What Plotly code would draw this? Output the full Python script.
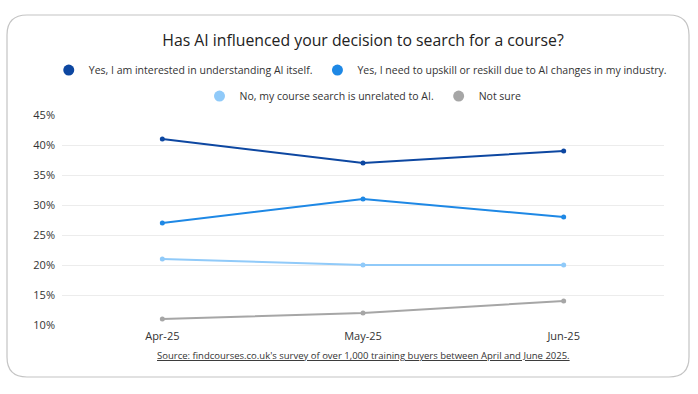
import plotly.graph_objects as go

months = ["Apr-25", "May-25", "Jun-25"]
series_names = [
    "Yes, I am interested in understanding AI itself.",
    "Yes, I need to upskill or reskill due to AI changes in my industry.",
    "No, my course search is unrelated to AI.",
    "Not sure",
]
interested = [41, 37, 39]
upskill = [27, 31, 28]
unrelated = [21, 20, 20]
not_sure = [11, 12, 14]
colors = ["#0D47A1", "#1E88E5", "#90CAF9", "#A6A6A6"]
legend_ids = ["legend", "legend", "legend2", "legend2"]

values = [interested, upskill, unrelated, not_sure]
font = "Open Sans, Noto Sans, sans-serif"

fig = go.Figure()
for name, vals, col in zip(series_names, values, colors):
    fig.add_trace(go.Scatter(
        x=months, y=vals, mode="lines+markers", name=name,
        line=dict(color=col, width=2), marker=dict(color=col, size=5),
        showlegend=False, hoverinfo="skip",
    ))
for name, col, lg in zip(series_names, colors, legend_ids):
    fig.add_trace(go.Scatter(
        x=[None], y=[None], mode="markers", name=name,
        marker=dict(color=col, size=11), legend=lg, showlegend=True,
    ))

card = ("M -35,-52 L 607,-52 Q 627,-52 627,-32 L 627,290 Q 627,310 607,310 "
        "L -35,310 Q -55,310 -55,290 L -55,-32 Q -55,-52 -35,-52 Z")

fig.update_layout(
    width=698, height=394,
    margin=dict(l=62, r=34, t=115, b=69, autoexpand=False),
    paper_bgcolor="white", plot_bgcolor="white",
    font=dict(family=font, size=11, color="#333333"),
    title=dict(text="Has AI influenced your decision to search for a course?",
               x=0.5, xref="paper", xanchor="center", y=0.898, yanchor="middle",
               font=dict(size=15.8, color="#222222", family=font)),
    xaxis=dict(range=[-0.5, 2.5], showgrid=False, zeroline=False, showline=False,
               ticks="", ticklabelstandoff=3, tickfont=dict(size=11, color="#333333")),
    yaxis=dict(range=[10, 45], dtick=5, ticksuffix="%", showgrid=True,
               gridcolor="#ECECEC", gridwidth=1, zeroline=False, showline=False,
               ticklabelstandoff=6, tickfont=dict(size=11, color="#333333")),
    legend=dict(orientation="h", x=-0.022, xanchor="left", y=1.214, yanchor="middle",
                font=dict(size=10.5, color="#333333"), itemwidth=30,
                bgcolor="rgba(0,0,0,0)"),
    legend2=dict(orientation="h", x=0.5, xanchor="center", y=1.09, yanchor="middle",
                 font=dict(size=10.5, color="#333333"), itemwidth=30,
                 bgcolor="rgba(0,0,0,0)"),
    shapes=[dict(type="path", path=card, xref="paper", yref="paper",
                 xsizemode="pixel", ysizemode="pixel", xanchor=0, yanchor=0,
                 line=dict(color="#C4C4C4", width=1.2), fillcolor="rgba(0,0,0,0)",
                 layer="below")],
    annotations=[dict(text="<u>Source: findcourses.co.uk's survey of over 1,000 training buyers between April and June 2025.</u>",
                      x=0.5, xref="paper", y=-0.143, yref="paper", xanchor="center",
                      yanchor="middle", showarrow=False,
                      font=dict(size=9.5, color="#333333", family=font))],
)

fig.write_html("out.html", config={"displayModeBar": False},
               post_script="document.body.style.margin='0px';")
